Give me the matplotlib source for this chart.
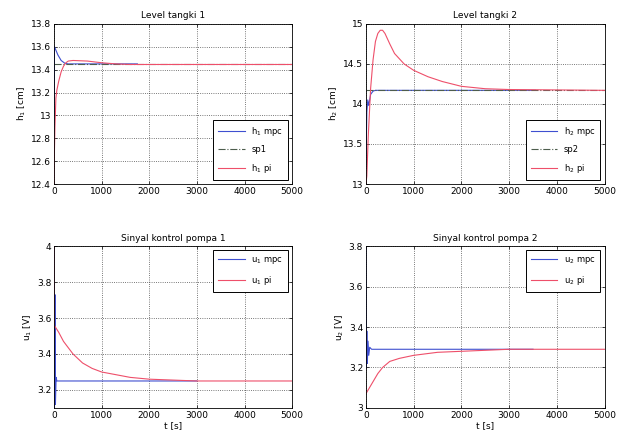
import numpy as np
import matplotlib.pyplot as plt

# ── datos ──
t1_mpc = [0, 10, 30, 80, 150, 230, 300, 1750]
h1_mpc = [12.75, 13.6, 13.58, 13.53, 13.48, 13.455, 13.45, 13.45]
t1_pi = [0, 5, 20, 40, 60, 100, 150, 200, 250, 300, 400, 700, 1000, 1300, 1600, 5000]
h1_pi = [12.3, 12.6, 12.9, 13.15, 13.22, 13.3, 13.38, 13.43, 13.46, 13.475, 13.48, 13.475, 13.46, 13.45, 13.445, 13.445]
sp1 = 13.445

t2_mpc = [0, 20, 40, 60, 80, 100, 150, 200, 3550]
h2_mpc = [13.2, 13.9, 14.05, 13.98, 14.05, 14.12, 14.16, 14.17, 14.17]
t2_pi = [0, 20, 50, 100, 150, 200, 250, 300, 350, 400, 500, 600, 800, 1000, 1300, 1600, 2000, 2500, 3000, 5000]
h2_pi = [13.0, 13.1, 13.6, 14.2, 14.55, 14.78, 14.88, 14.92, 14.92, 14.88, 14.75, 14.63, 14.5, 14.42, 14.34, 14.28, 14.22, 14.19, 14.18, 14.17]
sp2 = 14.17

t3_mpc = [0, 10, 20, 30, 45, 60, 3000]
u1_mpc = [4.0, 3.1, 3.73, 3.12, 3.27, 3.25, 3.25]
t3_pi = [0, 5, 100, 200, 400, 600, 800, 1000, 1300, 1600, 2000, 2500, 3000, 5000]
u1_pi = [4.1, 3.56, 3.52, 3.47, 3.40, 3.35, 3.32, 3.30, 3.285, 3.27, 3.26, 3.255, 3.25, 3.25]

t4_mpc = [0, 10, 20, 30, 45, 60, 80, 120, 3500]
u2_mpc = [3.8, 3.2, 3.38, 3.22, 3.33, 3.26, 3.3, 3.29, 3.29]
t4_pi = [0, 50, 150, 250, 350, 500, 700, 1000, 1500, 2000, 2500, 3000, 5000]
u2_pi = [3.07, 3.09, 3.13, 3.17, 3.2, 3.23, 3.245, 3.26, 3.275, 3.28, 3.285, 3.29, 3.29]

FS = 6.5
BLUE = '#3f4fd0'
RED = '#ee4f6a'
SPC = '#4d5d4d'

fig = plt.figure(figsize=(6.17, 4.34), dpi=100)
pos = {
    'tl': [0.0875, 0.576, 0.386, 0.369],
    'tr': [0.593, 0.576, 0.387, 0.369],
    'bl': [0.0875, 0.060, 0.386, 0.373],
    'br': [0.593, 0.060, 0.387, 0.373],
}


def style(ax, title, ylabel, ylim, yticks, xlabel=None):
    ax.set_xlim(0, 5000)
    ax.set_xticks([0, 1000, 2000, 3000, 4000, 5000])
    ax.set_ylim(*ylim)
    ax.set_yticks(yticks)
    ax.set_yticklabels([f'{v:g}' for v in yticks])
    ax.set_title(title, fontsize=FS, pad=4)
    ax.set_ylabel(ylabel, fontsize=FS, labelpad=2)
    if xlabel:
        ax.set_xlabel(xlabel, fontsize=FS, labelpad=1)
    ax.tick_params(labelsize=FS, length=2, width=0.5, direction='in', pad=2,
                   top=True, right=True)
    ax.grid(True, linestyle=':', color='black', linewidth=0.6, alpha=0.7)
    for s in ax.spines.values():
        s.set_linewidth(0.6)


def legend(ax, loc):
    leg = ax.legend(loc=loc, fontsize=FS - 0.5, fancybox=False, framealpha=1,
                    edgecolor='black', handlelength=3.2, borderpad=0.6,
                    labelspacing=0.9)
    leg.get_frame().set_linewidth(0.7)


ax1 = fig.add_axes(pos['tl'])
ax1.plot(t1_mpc, h1_mpc, color=BLUE, lw=0.8, label='h$_1$ mpc')
ax1.axhline(sp1, color=SPC, lw=0.8, ls='-.', label='sp1')
ax1.plot(t1_pi, h1_pi, color=RED, lw=0.8, label='h$_1$ pi')
style(ax1, 'Level tangki 1', 'h$_1$ [cm]', (12.4, 13.8),
      [12.4, 12.6, 12.8, 13, 13.2, 13.4, 13.6, 13.8])
legend(ax1, 'lower right')

ax2 = fig.add_axes(pos['tr'])
ax2.plot(t2_mpc, h2_mpc, color=BLUE, lw=0.8, label='h$_2$ mpc')
ax2.axhline(sp2, color=SPC, lw=0.8, ls='-.', label='sp2')
ax2.plot(t2_pi, h2_pi, color=RED, lw=0.8, label='h$_2$ pi')
style(ax2, 'Level tangki 2', 'h$_2$ [cm]', (13, 15), [13, 13.5, 14, 14.5, 15])
legend(ax2, 'lower right')

ax3 = fig.add_axes(pos['bl'])
ax3.plot(t3_mpc, u1_mpc, color=BLUE, lw=0.8, label='u$_1$ mpc')
ax3.plot(t3_pi, u1_pi, color=RED, lw=0.8, label='u$_1$ pi')
style(ax3, 'Sinyal kontrol pompa 1', 'u$_1$ [V]', (3.1, 4.0),
      [3.2, 3.4, 3.6, 3.8, 4], xlabel='t [s]')
legend(ax3, 'upper right')

ax4 = fig.add_axes(pos['br'])
ax4.plot(t4_mpc, u2_mpc, color=BLUE, lw=0.8, label='u$_2$ mpc')
ax4.plot(t4_pi, u2_pi, color=RED, lw=0.8, label='u$_2$ pi')
style(ax4, 'Sinyal kontrol pompa 2', 'u$_2$ [V]', (3.0, 3.8),
      [3, 3.2, 3.4, 3.6, 3.8], xlabel='t [s]')
legend(ax4, 'upper right')

plt.savefig('out.png', dpi=100)
